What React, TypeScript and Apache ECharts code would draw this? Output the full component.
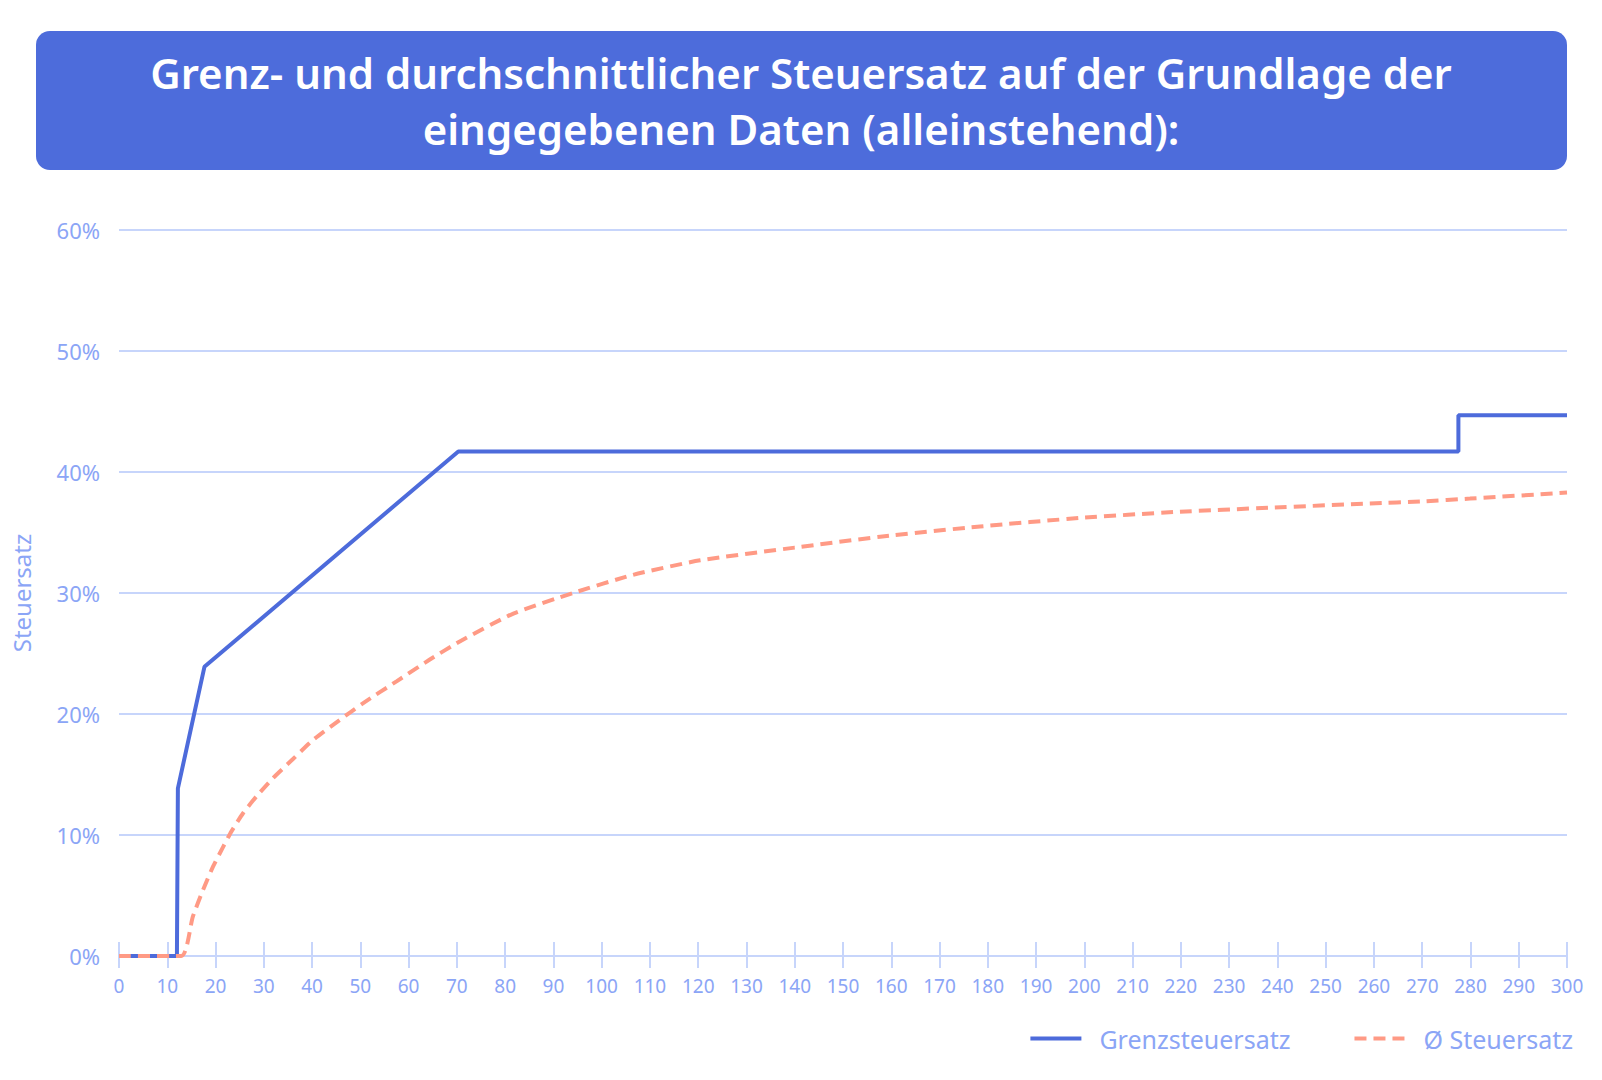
import React, { useEffect, useRef } from "react";
import * as echarts from "echarts";

const titleLines = [
  "Grenz- und durchschnittlicher Steuersatz auf der Grundlage der",
  "eingegebenen Daten (alleinstehend):",
];
const yAxisName = "Steuersatz";
const seriesNames = ["Grenzsteuersatz", "Ø Steuersatz"];

// income in thousand €, rate in %
const marginalX = [0, 12.0, 12.2, 17.7, 70.3, 277.5, 277.5, 300];
const marginalY = [0, 0, 13.85, 23.9, 41.7, 41.7, 44.7, 44.7];

const avgX = [0, 12.9, 15.3, 17.4, 19.5, 21.55, 23.3, 25.7, 28.5, 31.9, 36.1, 40.2, 45.7, 50.6, 57.5, 64.4, 70.6, 81.7, 94.1, 106.5, 120.4, 140, 157.7, 178.4, 199.1, 219, 238.5, 259.2, 270.3, 279.9, 300];
const avgY = [0, 0, 3.25, 5.45, 7.4, 9.0, 10.3, 11.8, 13.2, 14.7, 16.3, 17.85, 19.5, 20.9, 22.7, 24.5, 26.0, 28.3, 30.0, 31.5, 32.7, 33.75, 34.65, 35.5, 36.2, 36.7, 37.05, 37.4, 37.58, 37.8, 38.3];

const FONT = "'Noto Sans', sans-serif";
const LABEL = "#8ba5f6";
const GRID = "#c7d5fb";
const BLUE = "#4d6bdb";
const ORANGE = "#ff9a85";

export default function App() {
  const ref = useRef<HTMLDivElement>(null);
  useEffect(() => {
    document.body.style.margin = "0";
    const chart = echarts.init(ref.current!, null, { renderer: "svg" });
    const marginal = marginalX.map((x, i) => [x, marginalY[i]]);
    const avg = avgX.map((x, i) => [x, avgY[i]]);
    chart.setOption({
      animation: false,
      backgroundColor: "#ffffff",
      textStyle: { fontFamily: FONT },
      grid: { left: 119, right: 35, top: 230, bottom: 124, containLabel: false },
      graphic: [
        {
          type: "rect",
          shape: { x: 36, y: 31, width: 1531, height: 139, r: 14 },
          style: { fill: "#4d6cdb" },
        },
        {
          type: "text",
          x: 801,
          y: 72,
          style: {
            text: titleLines[0],
            fill: "#ffffff",
            font: `600 42px ${FONT}`,
            textAlign: "center",
            textVerticalAlign: "middle",
          },
        },
        {
          type: "text",
          x: 801,
          y: 128,
          style: {
            text: titleLines[1],
            fill: "#ffffff",
            font: `600 42px ${FONT}`,
            textAlign: "center",
            textVerticalAlign: "middle",
          },
        },
      ],
      legend: {
        right: 24,
        top: 1021,
        itemWidth: 51,
        itemHeight: 14,
        itemGap: 62,
        itemStyle: { opacity: 0 },
        lineStyle: { width: 4 },
        textStyle: { color: LABEL, fontSize: 25, fontFamily: FONT, padding: [0, 0, 0, 13] },
        data: seriesNames,
      },
      xAxis: [
        {
          type: "value",
          min: 0,
          max: 300,
          interval: 10,
          splitLine: { show: false },
          axisLine: { show: true, lineStyle: { color: GRID, width: 2 } },
          axisTick: { show: true, inside: false, length: 12, lineStyle: { color: GRID, width: 2 } },
          axisLabel: { color: LABEL, fontSize: 19, margin: 20, fontFamily: FONT },
        },
        {
          type: "value",
          position: "bottom",
          min: 0,
          max: 300,
          interval: 10,
          splitLine: { show: false },
          axisLine: { show: false },
          axisTick: { show: true, inside: true, length: 14, lineStyle: { color: GRID, width: 2 } },
          axisLabel: { show: false },
        },
      ],
      yAxis: {
        type: "value",
        min: 0,
        max: 60,
        interval: 10,
        name: yAxisName,
        nameLocation: "middle",
        nameGap: 86,
        nameRotate: 90,
        nameTextStyle: { color: LABEL, fontSize: 24, fontFamily: FONT },
        axisLine: { show: false },
        axisTick: { show: false },
        splitLine: { lineStyle: { color: GRID, width: 2 } },
        axisLabel: { color: LABEL, fontSize: 22, margin: 19, formatter: "{value}%", fontFamily: FONT },
      },
      series: [
        {
          name: seriesNames[0],
          type: "line",
          xAxisIndex: 0,
          data: marginal,
          symbol: "none",
          lineStyle: { color: BLUE, width: 4 },
          itemStyle: { color: BLUE },
          z: 2,
        },
        {
          name: seriesNames[1],
          type: "line",
          xAxisIndex: 0,
          data: avg,
          symbol: "none",
          smooth: 0.2,
          lineStyle: { color: ORANGE, width: 4, type: [12, 7] },
          itemStyle: { color: ORANGE },
          z: 3,
        },
      ],
    });
    return () => chart.dispose();
  }, []);
  return <div ref={ref} style={{ width: 1602, height: 1080, position: "absolute", left: 0, top: 0 }} />;
}
